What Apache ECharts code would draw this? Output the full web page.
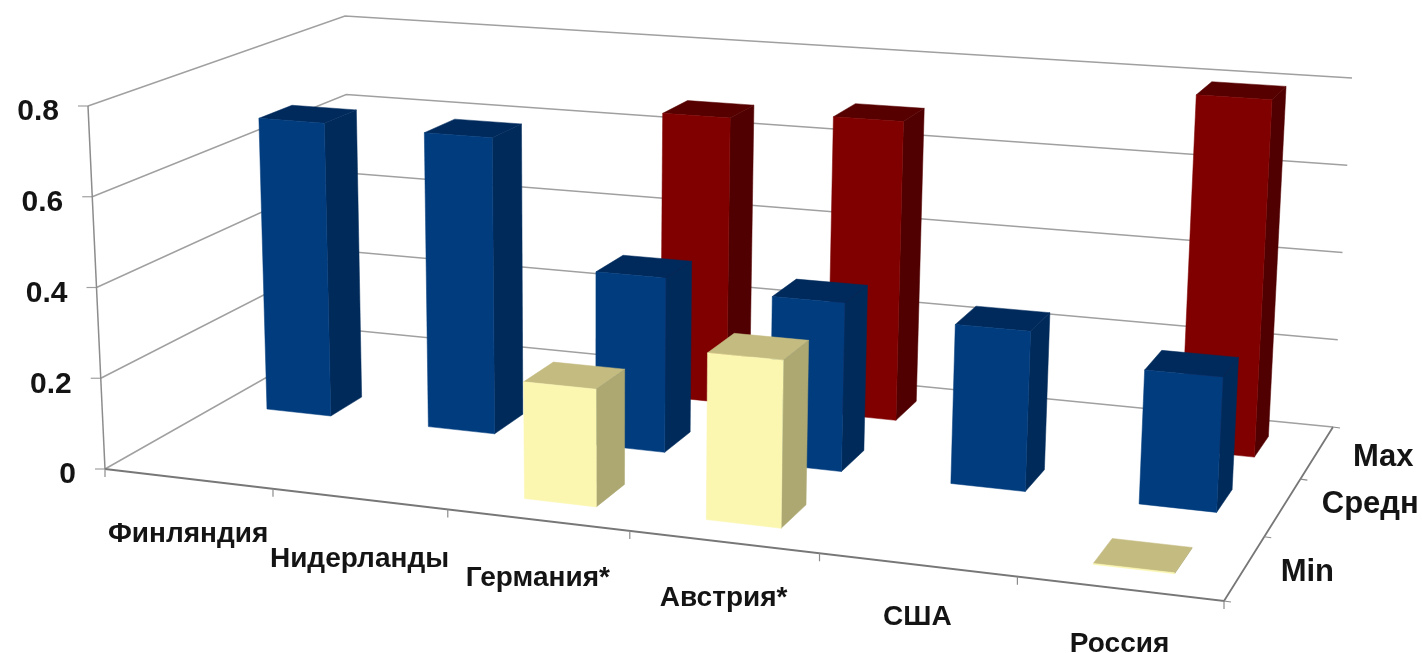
<!DOCTYPE html>
<html><head><meta charset="utf-8">
<style>html,body{margin:0;padding:0;background:#fff}#c{width:1422px;height:653px;filter:blur(0.6px)}</style>
<script src="https://cdn.jsdelivr.net/npm/echarts@6/dist/echarts.min.js"></script></head>
<body><div id="c"></div>
<script>
const categories = ['Финляндия','Нидерланды','Германия*','Австрия*','США','Россия'];
const depthLabels = ['Min','Средн','Max'];
const yTicks = [0,0.2,0.4,0.6,0.8];
const yTickLabels = ['0','0.2','0.4','0.6','0.8'];
const minValues  = [null,null,0.25,0.35,null,0.002];
const avgValues  = [0.68,0.675,0.39,0.37,0.345,0.285];
const maxValues  = [null,null,0.67,0.69,null,0.795];

// perspective frame: corners of the floor and of the top plane [FL, FR, BR, BL]
const FLOOR = [[105,469],[1224,601],[1333,427],[350,330]];
const TOP   = [[88,106],[1243,191],[1352,78],[345,16]];
function homography(q){
  const [[x0,y0],[x1,y1],[x2,y2],[x3,y3]] = q;
  const dx1=x1-x2,dx2=x3-x2,sx=x0-x1+x2-x3,dy1=y1-y2,dy2=y3-y2,sy=y0-y1+y2-y3;
  const den=dx1*dy2-dx2*dy1, g=(sx*dy2-dx2*sy)/den, h=(dx1*sy-sx*dy1)/den;
  const a=x1-x0+g*x1,b=x3-x0+h*x3,d=y1-y0+g*y1,e=y3-y0+h*y3;
  return (u,v)=>{const w=1+g*u+h*v;return [(a*u+b*v+x0)/w,(d*u+e*v+y0)/w];};
}
const floorH=homography(FLOOR), topH=homography(TOP);
function P(u,d,v){const f=floorH(u,d),t=topH(u,d);return [f[0]+(t[0]-f[0])*v,f[1]+(t[1]-f[1])*v];}

const BAR_W=0.40, BAR_D=0.40, N=categories.length, D=depthLabels.length;
const AXIS='#8c8c8c', GRID='#a0a0a0', TXT='#141414';
const FONT='"Liberation Sans",Arial,sans-serif';
const YSIZE=30, CSIZE=28, DSIZE=31;
const CAT_DY=[-1,4,2,0,-4,0];

// library scales -> normalised position
function norm(params,api){
  const cs=params.coordSys, p=api.coord([api.value(0),api.value(1)]);
  return {u:(p[0]-cs.x)/cs.width, v:(cs.y+cs.height-p[1])/cs.height, band:api.size([1,0])[0]/cs.width};
}
const line=(pts,stroke,w)=>({type:'polyline',shape:{points:pts},style:{stroke,lineWidth:w,fill:null},silent:true});
const poly=(pts,fill)=>({type:'polygon',shape:{points:pts},style:{fill,stroke:fill,lineWidth:0.5},silent:true});
const text=(x,y,s,size,align)=>({type:'text',x,y,style:{text:s,font:'bold '+size+'px '+FONT,fill:TXT,textAlign:align,textVerticalAlign:'middle'},silent:true});

function wallItem(params,api){
  const {v}=norm(params,api), a=P(0,0,v), b=P(0,1,v), c=P(1,1,v);
  const kids=[line([a,b,c],GRID,1.5), line([[a[0]-10,a[1]],a],GRID,1.2),
              text(a[0]-29,a[1]+6,yTickLabels[params.dataIndex],YSIZE,'right')];
  return {type:'group',children:kids};
}
function frameItem(){
  const kids=[line([P(0,0,1),P(0,0,0)],AXIS,1.5), line([P(0,0,0),P(1,0,0),P(1,1,0)],'#777',1.8)];
  for(let i=0;i<=N;i++){const a=P(i/N,0,0);kids.push(line([a,[a[0],a[1]+8]],AXIS,1.2));}
  for(let j=0;j<=D;j++){const a=P(1,j/D,0);kids.push(line([a,[a[0]+7,a[1]+1]],AXIS,1.2));}
  return {type:'group',children:kids};
}
function catLabelItem(params,api){
  const {u}=norm(params,api), a=P(u,0,0), i=params.dataIndex;
  return text(a[0],a[1]+56+CAT_DY[i],categories[i],CSIZE,'center');
}
function depthLabelItem(params,api){
  const j=params.dataIndex, a=P(1,(j+0.5)/D,0);
  return text(a[0]+(j===1?39:36),a[1]+[4,-3,5][j],depthLabels[j],DSIZE,'left');
}
function barItem(j,front,side,top){
  return function(params,api){
    const {u,v,band}=norm(params,api);
    const u0=u-band*BAR_W/2,u1=u+band*BAR_W/2,d0=(j+0.5-BAR_D/2)/D,d1=(j+0.5+BAR_D/2)/D;
    return {type:'group',children:[
      poly([P(u1,d0,0),P(u1,d1,0),P(u1,d1,v),P(u1,d0,v)],side),
      poly([P(u0,d0,v),P(u1,d0,v),P(u1,d1,v),P(u0,d1,v)],top),
      poly([P(u0,d0,0),P(u1,d0,0),P(u1,d0,v),P(u0,d0,v)],front)
    ]};
  };
}
function barData(vals){return vals.map((v,i)=>v==null?null:[i,v]).filter(Boolean);}
function custom(renderItem,data,z){return {type:'custom',renderItem,data,z,clip:false,silent:true,animation:false,encode:{x:0,y:1}};}

const chart=echarts.init(document.getElementById('c'),null,{width:1422,height:653});
chart.setOption({
  animation:false, backgroundColor:'#fff',
  grid:{left:0,top:0,width:600,height:400,show:false},
  xAxis:{type:'category',data:categories,show:false},
  yAxis:{type:'value',min:0,max:0.8,show:false},
  series:[
    custom(wallItem,yTicks.map(v=>[0,v]),1),
    custom(frameItem,[[0,0]],2),
    custom(barItem(2,'#800000','#500000','#560000'),barData(maxValues),3),
    custom(barItem(1,'#003c7e','#002a5a','#002a5c'),barData(avgValues),4),
    custom(barItem(0,'#fbf6b0','#ada872','#c4bb80'),barData(minValues),5),
    custom(catLabelItem,categories.map((c,i)=>[i,0]),6),
    custom(depthLabelItem,depthLabels.map((c,i)=>[0,0]),6)
  ]
});
</script></body></html>
